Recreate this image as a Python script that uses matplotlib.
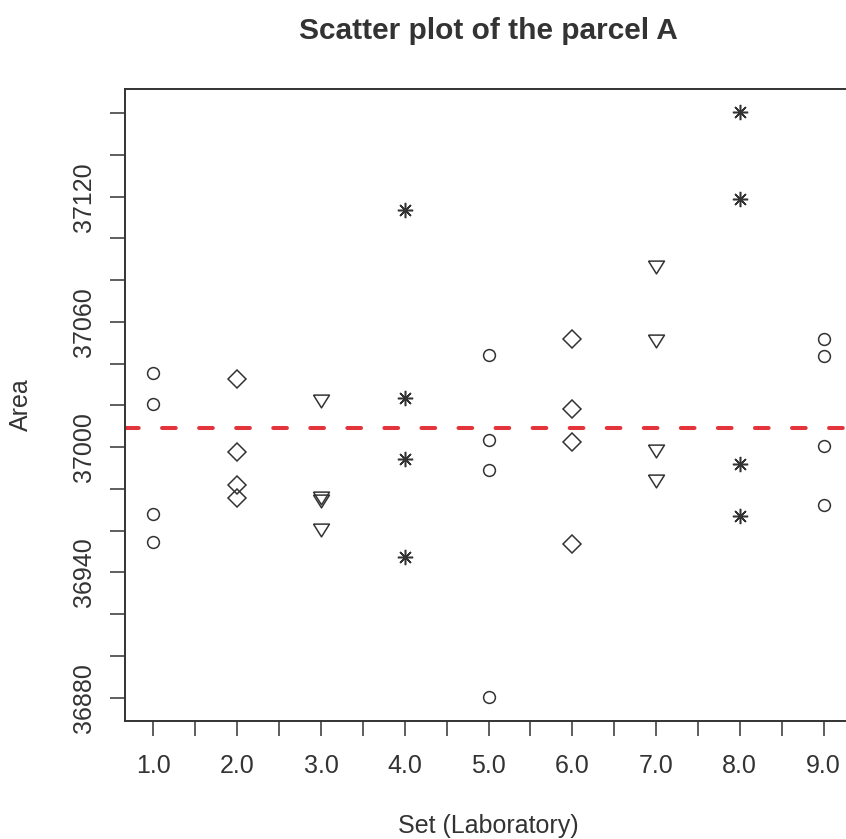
import matplotlib
matplotlib.use("Agg")
import matplotlib.pyplot as plt
from matplotlib.ticker import MultipleLocator, FixedLocator

plot_fname = "out.png"

# Laboratory sets and the four area readings of each set
set_ids = [1, 2, 3, 4, 5, 6, 7, 8, 9]
area_set1 = [37035.7, 37020.8, 36968.1, 36954.4]
area_set2 = [37032.5, 36997.9, 36982.1, 36975.7]
area_set3 = [37021.9, 36975.6, 36974.0, 36960.4]
area_set4 = [37113.5, 37023.7, 36994.4, 36947.6]
area_set5 = [37044.3, 37003.2, 36989.2, 36880.4]
area_set6 = [37051.7, 37018.1, 37002.4, 36953.7]
area_set7 = [37086.3, 37050.7, 36998.4, 36984.0]
area_set8 = [37160.7, 37119.1, 36992.0, 36966.8]
area_set9 = [37052.0, 37043.5, 37000.5, 36972.5]
reference_area = 37009.0
y_labels = [36880, 36940, 37000, 37060, 37120]

areas = [area_set1, area_set2, area_set3, area_set4, area_set5,
         area_set6, area_set7, area_set8, area_set9]

ink = "#333333"
plt.rcParams["font.family"] = ["Liberation Sans", "DejaVu Sans"]

# R style symbols: circle, diamond, down triangle, asterisk
tri_down = [(-1, 0.8), (1, 0.8), (0, -0.8), (-1, 0.8)]
symbols = [("o", 8.5), ("D", 8.8), (tri_down, 11.5), ((8, 2, 0), 11)]

fig = plt.figure(figsize=(8.46, 8.39), dpi=100)
ax = fig.add_axes([125 / 846, 118 / 839, 727 / 846, 632 / 839])

for i, (s, vals) in enumerate(zip(set_ids, areas)):
    m, ms = symbols[i % 4]
    ax.plot([s] * len(vals), vals, linestyle="none", marker=m, markersize=ms,
            markerfacecolor="none", markeredgecolor=ink, markeredgewidth=1.1,
            clip_on=False)

ax.axhline(reference_area, color="#e3343b", linewidth=2.9,
           dashes=(3.4, 5.8), dash_capstyle="round")

ax.set_xlim(0.66, 9.34)
ax.set_ylim(36868.8, 37171.6)

ax.xaxis.set_major_locator(FixedLocator(set_ids))
ax.xaxis.set_minor_locator(MultipleLocator(0.5))
ax.set_xticklabels(["%.1f" % s for s in set_ids])
ax.yaxis.set_major_locator(FixedLocator(y_labels))
ax.yaxis.set_minor_locator(MultipleLocator(20))
ax.set_yticklabels([str(v) for v in y_labels])

ax.tick_params(which="both", length=11, width=1.1, color=ink,
               labelcolor=ink, labelsize=18)
ax.tick_params(axis="x", which="both", pad=13)
ax.tick_params(axis="y", which="both", pad=10)
for lab in ax.get_yticklabels():
    lab.set_rotation(90)
    lab.set_va("center")

for sp in ax.spines.values():
    sp.set_linewidth(1.4)
    sp.set_color(ink)

fig.text(488 / 846, 1 - 39 / 839, "Scatter plot of the parcel A",
         ha="center", va="baseline", fontsize=21.5, fontweight="bold", color=ink)
fig.text(488 / 846, 1 - 833 / 839, "Set (Laboratory)",
         ha="center", va="baseline", fontsize=18, color=ink)
fig.text(21 / 846, 1 - 405 / 839, "Area", rotation=90,
         ha="center", va="center", fontsize=18, color=ink)

plt.savefig(plot_fname, dpi=100)
